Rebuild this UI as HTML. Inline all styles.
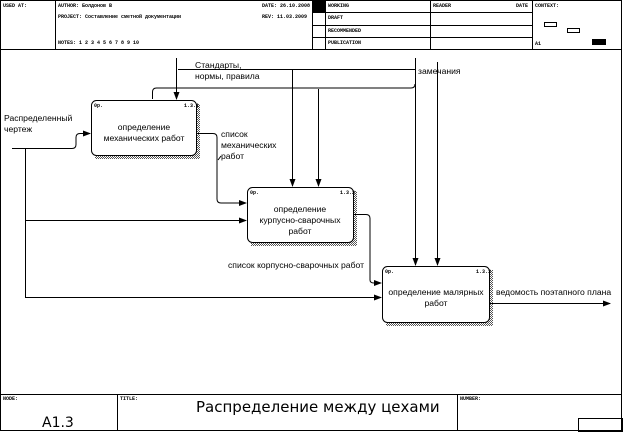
<!DOCTYPE html>
<html><head><meta charset="utf-8"><style>
body{margin:0;background:#fff;}
svg{display:block;font-family:"Liberation Sans",sans-serif;}
.h{font-family:"Liberation Mono",monospace;font-size:5px;font-weight:bold;}
.t{font-size:8.6px;}
</style></head><body>
<svg width="623" height="432" viewBox="0 0 623 432">
<defs>
<marker id="a" markerWidth="8" markerHeight="6" refX="7" refY="3" orient="auto" markerUnits="userSpaceOnUse"><path d="M0,0L8,3L0,6z" fill="#000"/></marker>
<pattern id="sh" width="2" height="2" patternUnits="userSpaceOnUse"><rect width="1" height="1" fill="#555"/><rect x="1" y="1" width="1" height="1" fill="#555"/></pattern>
</defs>
<g stroke="#000" fill="none" stroke-width="1">
<rect x="0.5" y="0.5" width="621" height="430"/>
<line x1="0" y1="49.5" x2="622" y2="49.5"/>
<line x1="55.5" y1="0" x2="55.5" y2="49"/>
<line x1="312.5" y1="0" x2="312.5" y2="49"/>
<line x1="325.5" y1="0" x2="325.5" y2="49"/>
<line x1="430.5" y1="0" x2="430.5" y2="49"/>
<line x1="532.5" y1="0" x2="532.5" y2="49"/>
<line x1="312" y1="12.5" x2="532" y2="12.5"/>
<line x1="312" y1="25.5" x2="532" y2="25.5"/>
<line x1="312" y1="37.5" x2="532" y2="37.5"/>
<rect x="544.5" y="22.5" width="12" height="4"/>
<rect x="567.5" y="28.5" width="12" height="4"/>
<line x1="0" y1="394.5" x2="622" y2="394.5"/>
<line x1="117.5" y1="394" x2="117.5" y2="431"/>
<line x1="457.5" y1="394" x2="457.5" y2="431"/>
<rect x="578.5" y="418.5" width="44" height="13"/>
</g>
<rect x="312" y="0" width="13" height="12" fill="#000"/>
<rect x="592" y="39" width="14" height="6" fill="#000"/>
<g class="h">
<text x="3" y="7">USED AT:</text>
<text x="58" y="7">AUTHOR: Болдонов В</text>
<text x="58" y="18">PROJECT: Составление сметной документации</text>
<text x="58" y="44">NOTES: 1 2 3 4 5 6 7 8 9 10</text>
<text x="262" y="7">DATE: 26.10.2008</text>
<text x="262" y="18">REV: 11.03.2009</text>
<text x="328" y="7">WORKING</text>
<text x="328" y="19">DRAFT</text>
<text x="328" y="32">RECOMMENDED</text>
<text x="328" y="44">PUBLICATION</text>
<text x="433" y="7">READER</text>
<text x="516" y="7">DATE</text>
<text x="535" y="7">CONTEXT:</text>
<text x="535" y="45">A1</text>
<text x="3" y="400">NODE:</text>
<text x="120" y="400">TITLE:</text>
<text x="460" y="400">NUMBER:</text>
</g>
<text x="42" y="427" font-size="14" font-family="DejaVu Sans,sans-serif">A1.3</text>
<text x="196" y="412" font-size="15" font-family="DejaVu Sans,sans-serif">Распределение  между цехами</text>
<g>
<rect x="95" y="104" width="105" height="55" fill="url(#sh)"/>
<rect x="91.5" y="100.5" width="105" height="55" rx="5" fill="#fff" stroke="#000"/>
<rect x="251" y="191" width="106" height="55" fill="url(#sh)"/>
<rect x="247.5" y="187.5" width="106" height="55" rx="5" fill="#fff" stroke="#000"/>
<rect x="386" y="270" width="107" height="56" fill="url(#sh)"/>
<rect x="382.5" y="266.5" width="107" height="56" rx="5" fill="#fff" stroke="#000"/>
</g>
<g class="h">
<text x="94" y="107">0p.</text><text x="184" y="107">1.3.1</text>
<text x="250" y="194">0p.</text><text x="340" y="194">1.3.2</text>
<text x="385" y="273">0p.</text><text x="476" y="273">1.3.3</text>
</g>
<g class="t" text-anchor="middle" fill="#000">
<text x="144" y="130">определение</text><text x="144" y="141">механических работ</text>
<text x="300" y="212">определение</text><text x="300" y="223">курпусно-сварочных</text><text x="300" y="234">работ</text>
<text x="436" y="295">определение малярных</text><text x="436" y="306">работ</text>
</g>
<g class="t">
<text x="4" y="121">Распределенный</text><text x="4" y="132">чертеж</text>
<text x="195" y="68">Стандарты,</text><text x="195" y="79">нормы, правила</text>
<text x="418" y="74">замечания</text>
<text x="221" y="137">список</text><text x="221" y="148">механических</text><text x="221" y="159">работ</text>
<text x="228" y="268">список корпусно-сварочных работ</text>
<text x="496" y="295">ведомость поэтапного плана</text>
</g>
<g stroke="#000" fill="none" stroke-width="1">
<path d="M12,148.5H72q4,0 4,-4v-7q0,-4 4,-4H90" marker-end="url(#a)"/>
<path d="M25.5,148V297.5H381" marker-end="url(#a)"/>
<path d="M25,220.5H246" marker-end="url(#a)"/>
<path d="M197,133.5H213q4,0 4,4V199q0,4 4,4H246" marker-end="url(#a)"/>
<path d="M354,214.5H366q4,0 4,4V280q0,3 4,3H381" marker-end="url(#a)"/>
<path d="M490,303.5H610" marker-end="url(#a)"/>
<path d="M176.5,58V99" marker-end="url(#a)"/>
<path d="M178,69.5H415"/>
<path d="M292.5,70V186" marker-end="url(#a)"/>
<path d="M415.5,58V265" marker-end="url(#a)"/>
<path d="M437.5,62V265" marker-end="url(#a)"/>
<path d="M152.5,99V92q0,-4 4,-4H411q4,0 4,-4"/>
<path d="M318.5,89V186" marker-end="url(#a)"/>
<path d="M218,160l3,-4" />
</g>
</svg>
</body></html>
